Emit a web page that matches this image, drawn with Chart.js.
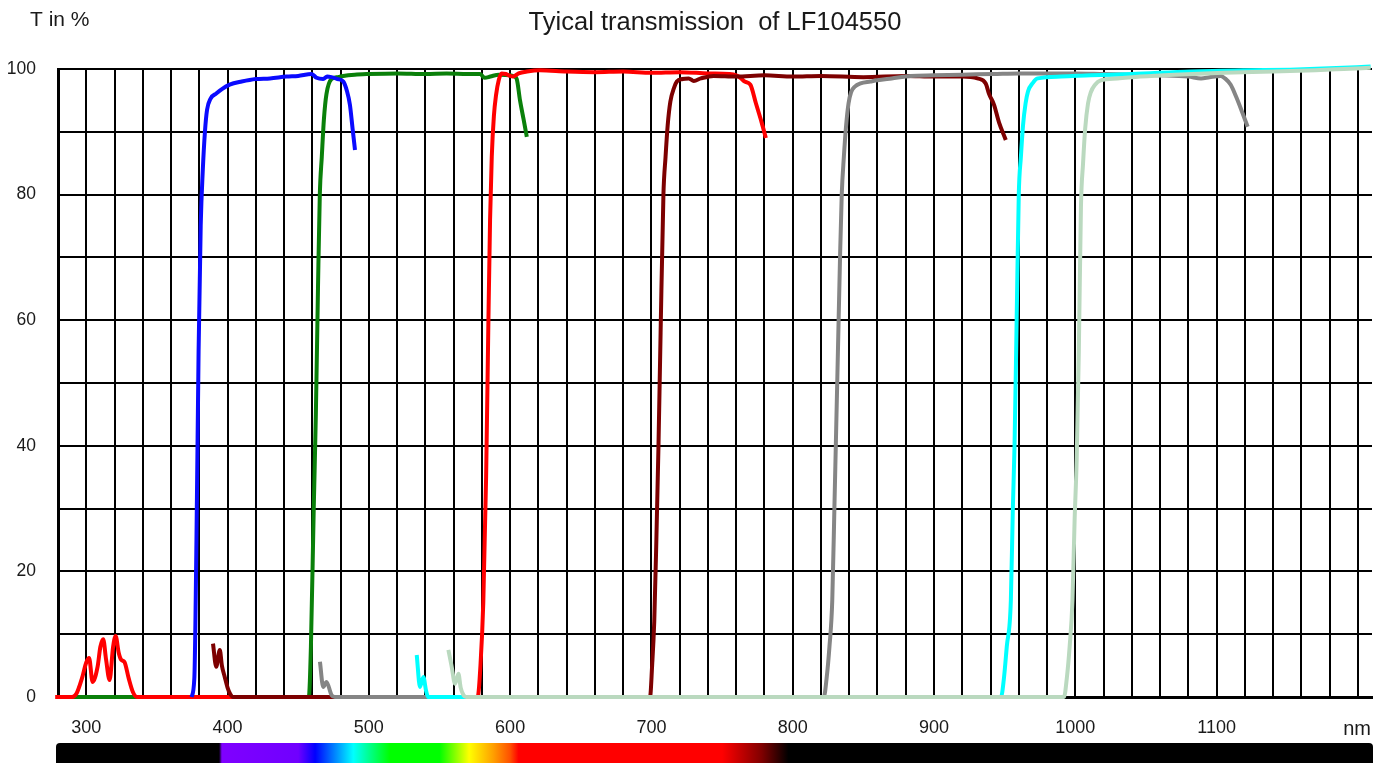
<!DOCTYPE html>
<html>
<head>
<meta charset="utf-8">
<title>Tyical transmission of LF104550</title>
<script src="https://cdn.jsdelivr.net/npm/chart.js@4/dist/chart.umd.min.js"></script>
<style>
  html, body { margin: 0; padding: 0; background: #fff; }
  #chart { display: block; }
</style>
</head>
<body>
<canvas id="chart" width="1385" height="763"></canvas>
<script>
// Transmission curves: wavelength (nm) and T (%)
const redNm = [278, 290, 293, 297, 300, 302, 304.5, 308, 310, 312, 314, 316.5, 319, 320.8, 323, 324.8, 327, 330, 333, 336, 400, 500, 577, 579, 581, 583, 584.5, 585.8, 587, 588.5, 590, 592, 594, 597, 600, 602, 606, 612, 621, 640, 660, 680, 700, 720, 740, 755, 760, 763, 766, 770, 774, 778, 781];
const redT = [0, 0, 0.5, 3, 5.5, 6.2, 2.4, 4.8, 8, 9.2, 6, 2.7, 8, 9.7, 7, 5.9, 5.6, 3, 0.8, 0, 0, 0, 0, 5, 15, 35, 58, 76, 86, 92.5, 95.8, 98.3, 99.3, 99.2, 98.9, 98.8, 99.3, 99.6, 99.8, 99.6, 99.5, 99.6, 99.4, 99.5, 99.3, 99.2, 99, 98.6, 98, 97.5, 94.5, 91.5, 89];

const blueNm = [374.5, 376.5, 378, 379.5, 381, 382.5, 384, 385.5, 388, 392, 396, 401.5, 410, 420, 430, 441.7, 450, 459.5, 463, 467.7, 470.5, 473.6, 478, 481.9, 484.5, 486.6, 488.5, 490.2];
const blueT = [0, 3, 25, 55, 75, 84, 90, 93.5, 95.3, 96.1, 96.8, 97.5, 98, 98.4, 98.5, 98.8, 98.9, 99.2, 98.6, 98.4, 98.8, 98.7, 98.4, 98, 96.5, 94.3, 90.5, 87.1];

const greenNm = [290, 300, 400, 457.5, 459, 461, 462.5, 464, 465.3, 466.7, 468.2, 470, 473.6, 478, 481.9, 490, 500, 520, 540, 555, 570, 578.8, 582, 586, 592, 600, 603, 604.7, 607, 609.5, 611.8];
const greenT = [0, 0, 0, 0, 8, 30, 45, 65, 80, 86, 92, 96, 98.4, 98.7, 98.9, 99.1, 99.2, 99.3, 99.2, 99.3, 99.2, 99.2, 98.6, 98.8, 99.1, 99, 98.8, 98.4, 95, 92, 89.2];

const darkRedNm = [389.7, 392, 394.5, 396, 398, 400, 401.6, 404, 450, 550, 650, 699, 700.5, 702, 703.5, 705, 706.5, 708.5, 710, 711.5, 713.4, 716, 718, 722, 726.4, 730, 735, 744, 760, 780, 800, 820, 850, 880, 900, 920, 930.8, 936.6, 939, 942.5, 946, 950.8];
const darkRedT = [8.5, 4.8, 7.5, 5, 3.2, 1.5, 0.6, 0, 0, 0, 0, 0, 5, 12, 25, 40, 58, 80, 86, 91, 94.8, 97, 98, 98.4, 98.5, 98.1, 98.5, 98.9, 98.8, 99, 98.8, 98.9, 98.7, 98.9, 98.8, 98.8, 98.5, 97.7, 96, 94.3, 91.5, 88.7];

const grayNm = [465.4, 467.7, 470, 473.6, 476, 600, 822, 824, 826, 828, 829.5, 830.5, 832, 833.5, 834.7, 836.2, 837.8, 839.5, 841.3, 844, 848, 855, 859.9, 870, 883.5, 900, 920, 942, 960, 980, 1000, 1020, 1040, 1058.4, 1080, 1089, 1095, 1103, 1106, 1110, 1114, 1118, 1122];
const grayT = [5.6, 1.6, 2.4, 0.3, 0, 0, 0, 3, 8, 15.4, 30, 40, 55, 70, 80, 86, 91, 94.5, 96.3, 97.2, 97.7, 98, 98.2, 98.5, 98.9, 99, 99.1, 99.2, 99.3, 99.3, 99.3, 99.2, 99.1, 99, 98.8, 98.5, 98.7, 98.9, 98.5, 97.5, 95.5, 93.2, 90.8];

const cyanNm = [533.9, 536.2, 538.6, 540.5, 542, 600, 800, 947.4, 949.5, 951.5, 954.4, 955.8, 957, 958.5, 960, 961.5, 963, 964.8, 966.5, 970, 973.3, 990, 1011, 1040, 1081.7, 1120, 1152, 1180, 1209];
const cyanT = [6.7, 1.6, 3.2, 1, 0, 0, 0, 0, 3, 8, 15.4, 30, 40, 60, 80, 86, 91, 94.5, 96.4, 97.8, 98.5, 98.8, 99, 99.2, 99.6, 99.8, 99.9, 100.1, 100.4];

const paleNm = [556.3, 558.5, 561, 563.4, 565, 567, 569, 700, 900, 992, 994, 996, 998, 999.5, 1001, 1002.5, 1004, 1005.5, 1007, 1009, 1011, 1014, 1018, 1030, 1046, 1070, 1105, 1140, 1170, 1190, 1209];
const paleT = [7.5, 5, 2.1, 3.7, 1.5, 0.3, 0, 0, 0, 0, 3, 8, 15.4, 28, 38, 55, 78, 85, 90.5, 94.5, 96.3, 97.5, 98.2, 98.5, 98.8, 99.1, 99.4, 99.6, 99.8, 100, 100.2];

// axes
const xGridStep = 20;
const xLabels = [300, 400, 500, 600, 700, 800, 900, 1000, 1100];
const yLabels = [0, 20, 40, 60, 80, 100];

// colour bar under the axis
const spectrumNm = [280, 394, 396, 450, 462, 472, 489, 500, 515, 550, 571, 588, 600, 606, 750, 778, 797, 1210];
const spectrumColors = ['#000000', '#000000', '#7f00ff', '#7000ff', '#0000ff', '#0060ff', '#00ffff', '#00ff90', '#00ff00', '#00ff00', '#ffff00', '#ffa000', '#ff5000', '#ff0000', '#ff0000', '#800000', '#000000', '#000000'];

const FONT = '"Liberation Sans", Arial, sans-serif';
const TEXT = '#1a1a1a';

function toPoints(nm, t) {
  return nm.map((x, i) => ({ x: x, y: t[i] }));
}

// first entry is drawn on top
const curves = [
  { label: 'pale green', nm: paleNm, t: paleT, color: '#bad9bf' },
  { label: 'cyan', nm: cyanNm, t: cyanT, color: '#00ffff' },
  { label: 'gray', nm: grayNm, t: grayT, color: '#858585' },
  { label: 'dark red', nm: darkRedNm, t: darkRedT, color: '#7d0000' },
  { label: 'blue', nm: blueNm, t: blueT, color: '#0a0aff' },
  { label: 'red', nm: redNm, t: redT, color: '#ff0000' },
  { label: 'green', nm: greenNm, t: greenT, color: '#0a800a' }
];

const decorations = {
  id: 'decorations',
  afterDraw(chart) {
    const { ctx, chartArea, scales } = chart;
    const x = scales.x;
    ctx.save();

    // spectrum bar
    const left = chartArea.left - 2, right = chartArea.right + 1;
    const grad = ctx.createLinearGradient(left, 0, right, 0);
    spectrumNm.forEach((nm, i) => {
      const p = (x.getPixelForValue(nm) - left) / (right - left);
      grad.addColorStop(Math.min(1, Math.max(0, p)), spectrumColors[i]);
    });
    ctx.fillStyle = grad;
    ctx.beginPath();
    ctx.roundRect(left, 743, right - left, 30, 4);
    ctx.fill();

    // texts
    ctx.fillStyle = TEXT;
    ctx.textBaseline = 'alphabetic';
    ctx.font = '21px ' + FONT;
    ctx.textAlign = 'left';
    ctx.fillText('T in %', 30, 26);
    ctx.font = '25.5px ' + FONT;
    ctx.textAlign = 'center';
    ctx.fillText('Tyical transmission  of LF104550', 715, 30);
    ctx.font = '20px ' + FONT;
    ctx.textAlign = 'right';
    ctx.fillText('nm', 1371, 735);
    ctx.restore();
  }
};

new Chart(document.getElementById('chart'), {
  type: 'line',
  data: {
    datasets: curves.map((c, i) => ({
      label: c.label,
      data: toPoints(c.nm, c.t),
      borderColor: c.color,
      backgroundColor: c.color,
      borderWidth: 4,
      pointRadius: 0,
      cubicInterpolationMode: 'monotone',
      fill: false,
      clip: 5,
      order: i + 1
    }))
  },
  options: {
    responsive: false,
    animation: false,
    events: [],
    layout: { padding: { top: 69, right: 13, bottom: 0, left: 0 } },
    plugins: {
      legend: { display: false },
      tooltip: { enabled: false },
      title: { display: false }
    },
    scales: {
      x: {
        type: 'linear',
        min: 280,
        max: 1210,
        afterBuildTicks(scale) {
          const ticks = [];
          for (let v = 280; v <= 1200; v += xGridStep) ticks.push({ value: v });
          scale.ticks = ticks;
        },
        afterFit(scale) { scale.height = 66; },
        ticks: {
          autoSkip: false,
          maxRotation: 0,
          padding: 20,
          color: TEXT,
          font: { family: FONT, size: 18 },
          callback: v => xLabels.includes(v) ? String(v) : ''
        },
        grid: { color: '#000', lineWidth: 2, drawTicks: false },
        border: { color: '#000', width: 3 }
      },
      y: {
        min: 0,
        max: 100,
        afterFit(scale) { scale.width = 58; },
        ticks: {
          stepSize: 10,
          padding: 22,
          color: TEXT,
          font: { family: FONT, size: 17.5 },
          callback: v => yLabels.includes(v) ? String(v) : ''
        },
        grid: { color: '#000', lineWidth: 2, drawTicks: false },
        border: { color: '#000', width: 3 }
      }
    }
  },
  plugins: [decorations]
});
</script>
</body>
</html>
